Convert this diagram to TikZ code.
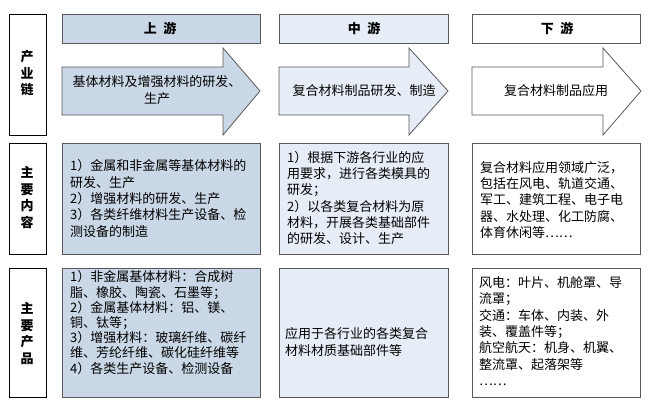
\documentclass[tikz,border=0pt]{standalone}
\usepackage{fontspec}
\newfontfamily\cjk{Noto Sans CJK SC}
\definecolor{upfill}{HTML}{CAD7E6}
\definecolor{midfill}{HTML}{E7EDF6}
\definecolor{bordergray}{HTML}{595959}
\begin{document}
\begin{tikzpicture}[x=1pt,y=-1pt,
  box/.style={draw=bordergray, line width=1.1pt, anchor=north west, inner sep=0pt},
  lab/.style={draw=black, line width=1pt, fill=white, anchor=north west, inner sep=0pt},
  arr/.style={draw=bordergray, line width=0.8pt, line join=miter},
  txt/.style={font=\cjk\fontsize{13}{16.3}\selectfont, align=left, inner sep=0pt, anchor=west},
  ctxt/.style={font=\cjk\fontsize{13}{16.3}\selectfont, align=center, inner sep=0pt, anchor=center},
  head/.style={font=\cjk\bfseries\fontsize{13}{16}\selectfont, inner sep=0pt, anchor=center},
  vlab/.style={font=\cjk\bfseries\fontsize{13}{16.5}\selectfont, align=center, inner sep=0pt, anchor=center}]
\useasboundingbox[fill=white] (0,0) rectangle (651,407);

% row labels
\node[lab, minimum width=37pt, minimum height=121pt] (l1) at (9,14) {};
\node[lab, minimum width=37pt, minimum height=111pt] (l2) at (9,143) {};
\node[lab, minimum width=37pt, minimum height=129pt] (l3) at (9,268) {};
\node[vlab] (l1t) at (27,73.5) {产\\业\\链};
\node[vlab] (l2t) at (27,197.5) {主\\要\\内\\容};
\node[vlab] (l3t) at (27,333.5) {主\\要\\产\\品};

% headers
\node[box, fill=upfill, minimum width=198pt, minimum height=29pt] (hu) at (62,14) {};
\node[box, fill=midfill, minimum width=169pt, minimum height=29pt] (hm) at (279,14) {};
\node[box, fill=white, minimum width=168pt, minimum height=29pt] (hd) at (472,14) {};
\node[head] (hut) at (160,28.5) {上\hspace{0.5em}游};
\node[head] (hmt) at (364,28.5) {中\hspace{0.5em}游};
\node[head] (hdt) at (557,28.5) {下\hspace{0.5em}游};

% arrows
\draw[arr, fill=upfill] (62,67) -- (223,67) -- (223,48) -- (260,91) -- (223,135) -- (223,115) -- (62,115) -- cycle;
\draw[arr, fill=midfill] (279,67) -- (409,67) -- (409,48) -- (448,91) -- (409,135) -- (409,115) -- (279,115) -- cycle;
\draw[arr, fill=white] (472,67) -- (603,67) -- (603,48) -- (641,91) -- (603,135) -- (603,115) -- (472,115) -- cycle;
\node[ctxt] (au) at (157,90) {基体材料及增强材料的研发、\\生产};
\node[ctxt] (am) at (364,91) {复合材料制品研发、制造};
\node[ctxt] (ad) at (556,91) {复合材料制品应用};

% row 2
\node[box, fill=upfill, minimum width=198pt, minimum height=111pt] (b2u) at (62,143) {};
\node[box, fill=midfill, minimum width=169pt, minimum height=111pt] (b2m) at (279,143) {};
\node[box, fill=white, minimum width=168pt, minimum height=111pt] (b2d) at (472,143) {};
\node[txt] (t2u) at (70,198.5) {1）金属和非金属等基体材料的\\研发、生产\\2）增强材料的研发、生产\\3）各类纤维材料生产设备、检\\测设备的制造};
\node[txt] (t2m) at (287,198) {1）根据下游各行业的应\\用要求，进行各类模具的\\研发；\\2）以各类复合材料为原\\材料，开展各类基础部件\\的研发、设计、生产};
\node[txt] (t2d) at (480,200) {复合材料应用领域广泛，\\包括在风电、轨道交通、\\军工、建筑工程、电子电\\器、水处理、化工防腐、\\体育休闲等……};

% row 3
\node[box, fill=upfill, minimum width=198pt, minimum height=129pt] (b3u) at (62,268) {};
\node[box, fill=midfill, minimum width=169pt, minimum height=129pt] (b3m) at (279,268) {};
\node[box, fill=white, minimum width=168pt, minimum height=129pt] (b3d) at (472,268) {};
\node[txt, font=\cjk\fontsize{13}{15.2}\selectfont] (t3u) at (70,322.5) {1）非金属基体材料：合成树\\脂、橡胶、陶瓷、石墨等；\\2）金属基体材料：铝、镁、\\铜、钛等；\\3）增强材料：玻璃纤维、碳纤\\维、芳纶纤维、碳化硅纤维等\\4）各类生产设备、检测设备};
\node[txt] (t3m) at (285,342) {应用于各行业的各类复合\\材料材质基础部件等};
\node[txt] (t3d) at (479,331) {风电：叶片、机舱罩、导\\流罩；\\交通：车体、内装、外\\装、覆盖件等；\\航空航天：机身、机翼、\\整流罩、起落架等\\……};
\end{tikzpicture}
\end{document}
